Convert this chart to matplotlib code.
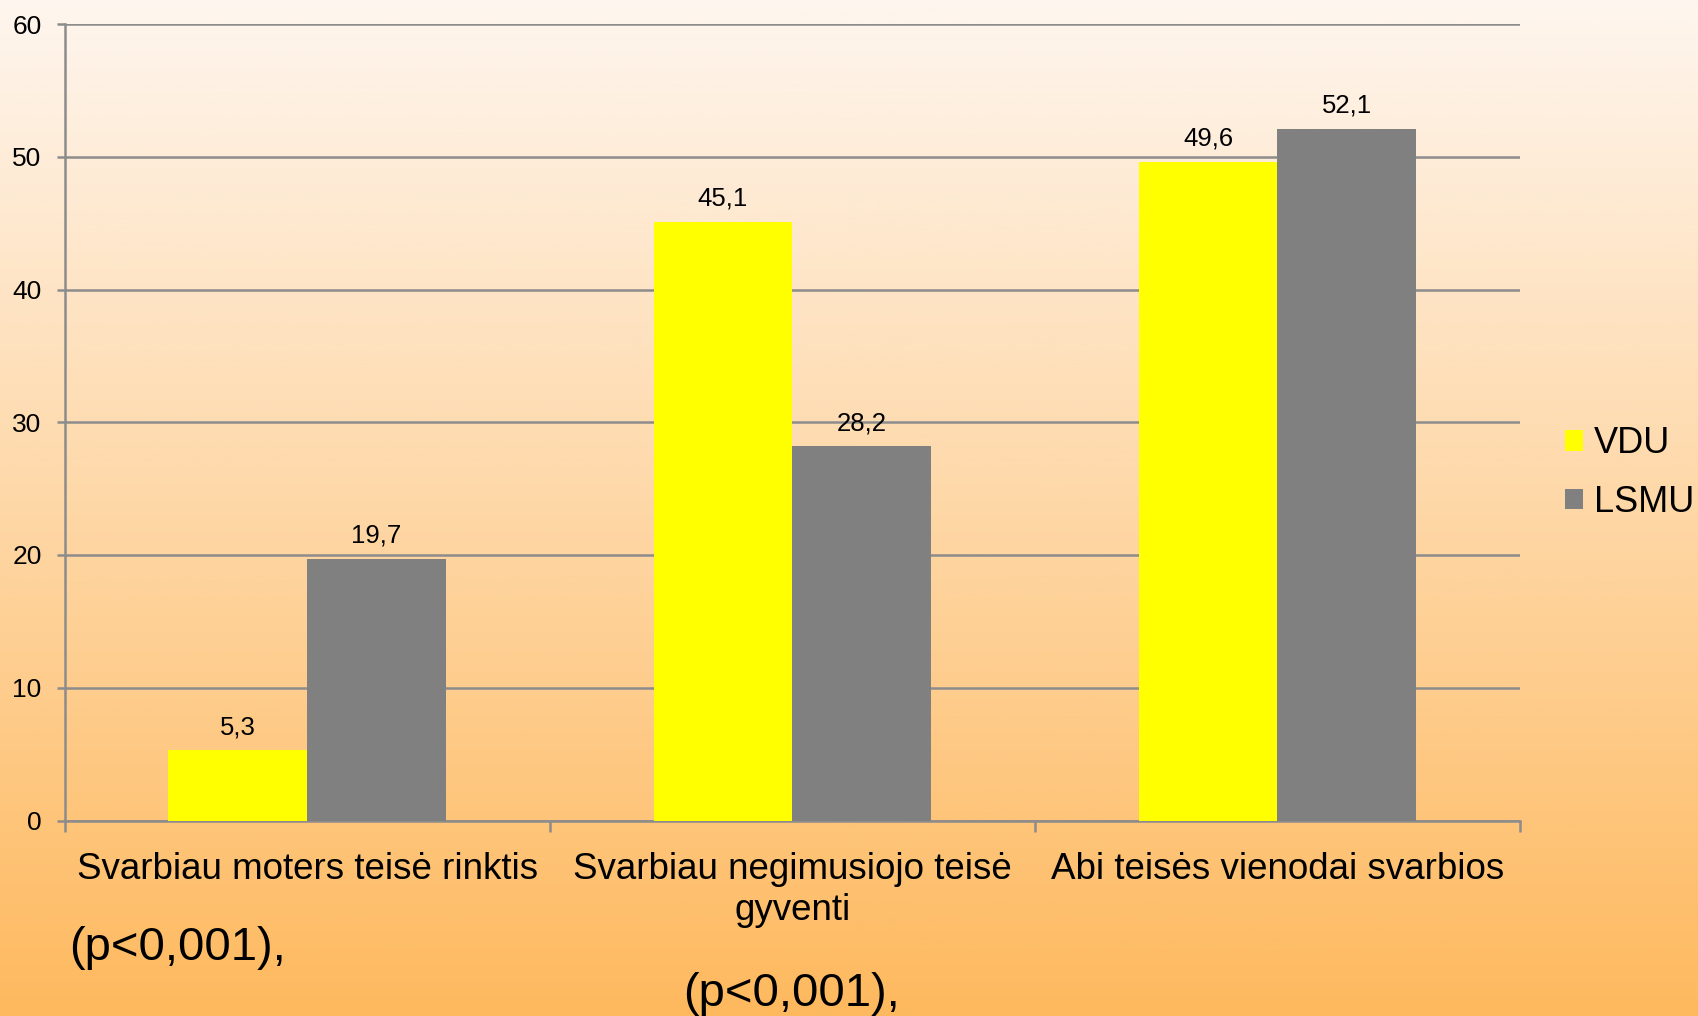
import numpy as np
import matplotlib
matplotlib.use("Agg")
import matplotlib.pyplot as plt

categories = ["Svarbiau moters teisė rinktis",
              "Svarbiau negimusiojo teisė\ngyventi",
              "Abi teisės vienodai svarbios"]
series_names = ["VDU", "LSMU"]
vdu = [5.3, 45.1, 49.6]
lsmu = [19.7, 28.2, 52.1]
yticks = [0, 10, 20, 30, 40, 50, 60]
p_texts = ["(p<0,001),", "(p<0,001),"]

colors = ["#FFFF00", "#808080"]
grid_c = "#8C8C8C"

plt.rcParams['font.family'] = ['Liberation Sans', 'DejaVu Sans']

W, H = 1698, 1016
fig = plt.figure(figsize=(W / 100, H / 100), dpi=100)

# gradient background
bg = fig.add_axes([0, 0, 1, 1], zorder=-10)
top = np.array([254, 246, 239]) / 255
bot = np.array([254, 185, 94]) / 255
t = np.linspace(0, 1, 512)[:, None]
grad = top[None, :] * (1 - t) + bot[None, :] * t
bg.imshow(grad[:, None, :], aspect='auto', extent=[0, 1, 0, 1])
bg.set_axis_off()

ax = fig.add_axes([64.5 / W, 1 - 820.5 / H, (1520 - 64.5) / W, (820.5 - 24) / H])
ax.patch.set_alpha(0)

x = np.arange(len(categories))
bw = 1 / 3.5
b1 = ax.bar(x - bw / 2, vdu, bw, color=colors[0], label=series_names[0], zorder=3)
b2 = ax.bar(x + bw / 2, lsmu, bw, color=colors[1], label=series_names[1], zorder=3)

fmt = lambda v: f"{v:.1f}".replace('.', ',')
ax.bar_label(b1, labels=[fmt(v) for v in vdu], padding=8, fontsize=18.5)
ax.bar_label(b2, labels=[fmt(v) for v in lsmu], padding=8, fontsize=18.5)

ax.set_xlim(-0.5, len(categories) - 0.5)
ax.set_ylim(0, 60)
ax.set_yticks(yticks)
ax.set_yticklabels([str(v) for v in yticks], fontsize=19)
ax.yaxis.grid(True, color=grid_c, linewidth=1.8, zorder=0)
ax.set_axisbelow(True)

ax.set_xticks(x)
ax.set_xticklabels(categories, fontsize=26.5, linespacing=1.25)
ax.tick_params(axis='x', which='major', length=0, pad=22.5)
ax.set_xticks(np.arange(-0.5, len(categories)), minor=True)
ax.tick_params(axis='x', which='minor', length=8, width=1.8, color=grid_c)
ax.tick_params(axis='y', length=5.5, width=1.8, color=grid_c, pad=11)

for s in ['top', 'right']:
    ax.spines[s].set_visible(False)
for s in ['left', 'bottom']:
    ax.spines[s].set_color(grid_c)
    ax.spines[s].set_linewidth(1.8)

fig.legend(handles=[b1, b2], labels=series_names, loc='center left',
           bbox_to_anchor=(1565 / W, 1 - 473 / H), frameon=False, fontsize=26,
           handlelength=0.5, handleheight=0.5, handletextpad=0.3,
           labelspacing=0.66, borderpad=0, borderaxespad=0)

fig.text(177 / W, 1 - 948 / H, p_texts[0], fontsize=34, ha='center', va='center')
fig.text(791.5 / W, 1 - 994 / H, p_texts[1], fontsize=34, ha='center', va='center')

fig.savefig("out.png", dpi=100)
